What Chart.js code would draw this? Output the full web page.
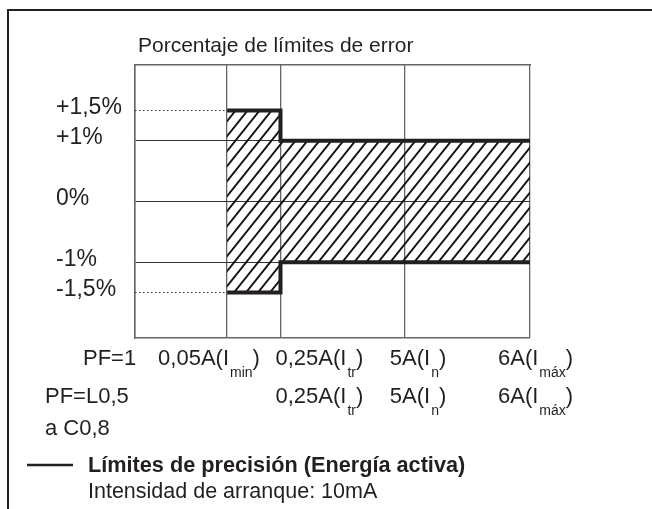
<!DOCTYPE html>
<html>
<head>
<meta charset="utf-8">
<script src="https://cdn.jsdelivr.net/npm/chart.js@4/dist/chart.umd.min.js"></script>
<style>
  body { margin: 0; background: #fff; }
</style>
</head>
<body>
<canvas id="errChart" width="652" height="509"></canvas>
<script>
// schematic positions along the current axis (not to scale)
const currentTicks = [0, 1, 1.58, 2.93, 4.29];
// error limits (%) at 0,05A -> 0,25A -> 6A
const limitX = [1, 1.58, 4.29];
const upperLimit = [1.5, 1, 1];
const lowerLimit = [-1.5, -1, -1];
const yTickValues = [1.5, 1, 0, -1, -1.5];
const yTickLabels = ['+1,5%', '+1%', '0%', '-1%', '-1,5%'];
// tick labels: [main text, subscript, closing]
const pf1Labels = [['0,05A(I', 'min', ')'], ['0,25A(I', 'tr', ')'], ['5A(I', 'n', ')'], ['6A(I', 'máx', ')']];
const pf2Labels = [null, ['0,25A(I', 'tr', ')'], ['5A(I', 'n', ')'], ['6A(I', 'máx', ')']];
const rowTitles = [['PF=1'], ['PF=L0,5', 'a C0,8']];

const dark = '#231f20';
const font = '"Liberation Sans", Arial, sans-serif';

// hatch pattern for the limit band
function hatch() {
    const w = 12, h = 15;
    const c = document.createElement('canvas');
    c.width = w; c.height = h;
    const g = c.getContext('2d');
    g.strokeStyle = '#111';
    g.lineWidth = 1.9;
    g.beginPath();
    g.moveTo(-w, 2 * h); g.lineTo(2 * w, -h);
    g.moveTo(-2 * w, 2 * h); g.lineTo(w, -h);
    g.moveTo(0, 2 * h); g.lineTo(3 * w, -h);
    g.stroke();
    return g.createPattern(c, 'repeat');
}

const pts = ys => limitX.map((x, i) => ({x: x, y: ys[i]}));

const textPlugin = {
    id: 'texts',
    beforeDraw(chart) {
        const ctx = chart.ctx;
        ctx.save();
        ctx.fillStyle = '#fff';
        ctx.fillRect(0, 0, chart.width, chart.height);
        ctx.strokeStyle = dark;
        ctx.lineWidth = 2;
        ctx.beginPath();
        ctx.moveTo(8, chart.height + 2);
        ctx.lineTo(8, 10);
        ctx.lineTo(chart.width + 2, 10);
        ctx.stroke();
        ctx.restore();
    },
    afterDraw(chart) {
        const ctx = chart.ctx;
        const x = chart.scales.x;
        ctx.save();
        ctx.fillStyle = dark;
        ctx.textBaseline = 'alphabetic';
        ctx.textAlign = 'left';

        ctx.font = '21px ' + font;
        ctx.fillText('Porcentaje de límites de error', 138, 52);

        const dx = [-69, -5, -15, -32];
        function label(parts, left, base) {
            ctx.font = '22px ' + font;
            ctx.fillText(parts[0], left, base);
            let p = left + ctx.measureText(parts[0]).width + 1;
            ctx.font = '14px ' + font;
            ctx.fillText(parts[1], p, base + 12);
            p += ctx.measureText(parts[1]).width;
            ctx.font = '22px ' + font;
            ctx.fillText(parts[2], p, base);
        }
        pf1Labels.forEach((l, i) => {
            if (l) label(l, x.getPixelForValue(currentTicks[i + 1]) + dx[i], 365);
        });
        pf2Labels.forEach((l, i) => {
            if (l) label(l, x.getPixelForValue(currentTicks[i + 1]) + dx[i], 403);
        });
        ctx.font = '22px ' + font;
        ctx.fillText(rowTitles[0][0], 83, 365);
        ctx.fillText(rowTitles[1][0], 45, 403);
        ctx.fillText(rowTitles[1][1], 45, 435);

        // legend
        ctx.strokeStyle = dark;
        ctx.lineWidth = 2.5;
        ctx.beginPath();
        ctx.moveTo(27, 465);
        ctx.lineTo(73, 465);
        ctx.stroke();
        ctx.font = 'bold 21.7px ' + font;
        ctx.fillText('Límites de precisión (Energía activa)', 88, 472);
        ctx.font = '21.5px ' + font;
        ctx.fillText('Intensidad de arranque: 10mA', 88, 498);
        ctx.restore();
    }
};

new Chart(document.getElementById('errChart'), {
    type: 'line',
    data: {
        datasets: [
            {
                data: pts(upperLimit),
                stepped: true,
                borderColor: dark,
                borderWidth: 4,
                pointRadius: 0,
                fill: false
            },
            {
                data: pts(lowerLimit),
                stepped: true,
                borderColor: dark,
                borderWidth: 4,
                pointRadius: 0,
                backgroundColor: hatch(),
                fill: '-1'
            },
            {
                data: [{x: currentTicks[0], y: 1.5}, {x: currentTicks[1], y: 1.5}],
                borderColor: '#333',
                borderWidth: 1.2,
                borderDash: [1.5, 2.5],
                pointRadius: 0,
                fill: false
            },
            {
                data: [{x: currentTicks[0], y: -1.5}, {x: currentTicks[1], y: -1.5}],
                borderColor: '#333',
                borderWidth: 1.2,
                borderDash: [1.5, 2.5],
                pointRadius: 0,
                fill: false
            }
        ]
    },
    options: {
        responsive: false,
        animation: false,
        layout: { padding: { left: 56, top: 65, right: 122, bottom: 171 } },
        plugins: {
            legend: { display: false },
            tooltip: { enabled: false }
        },
        scales: {
            x: {
                type: 'linear',
                min: 0,
                max: 4.29,
                afterBuildTicks: s => { s.ticks = currentTicks.map(v => ({value: v})); },
                afterFit: s => { s.height = 0; },
                ticks: { display: false },
                grid: { color: '#666', lineWidth: 1.3, drawTicks: false },
                border: { color: '#666', width: 1.5 }
            },
            x2: {
                type: 'linear',
                position: 'top',
                min: 0,
                max: 4.29,
                afterFit: s => { s.height = 0; },
                ticks: { display: false },
                grid: { display: false },
                border: { color: '#666', width: 1.5 }
            },
            y: {
                min: -2.25,
                max: 2.25,
                afterBuildTicks: s => { s.ticks = yTickValues.map(v => ({value: v})); },
                afterFit: s => { s.width = 79; },
                ticks: {
                    crossAlign: 'far',
                    labelOffset: -3,
                    color: dark,
                    font: { family: font, size: 23 },
                    callback: (v, i) => yTickLabels[i]
                },
                grid: {
                    drawTicks: false,
                    color: c => Math.abs(c.tick.value) === 1.5 ? 'rgba(0,0,0,0)' : '#333',
                    lineWidth: 1
                },
                border: { color: '#666', width: 1.5 }
            }
        }
    },
    plugins: [textPlugin]
});
</script>
</body>
</html>
